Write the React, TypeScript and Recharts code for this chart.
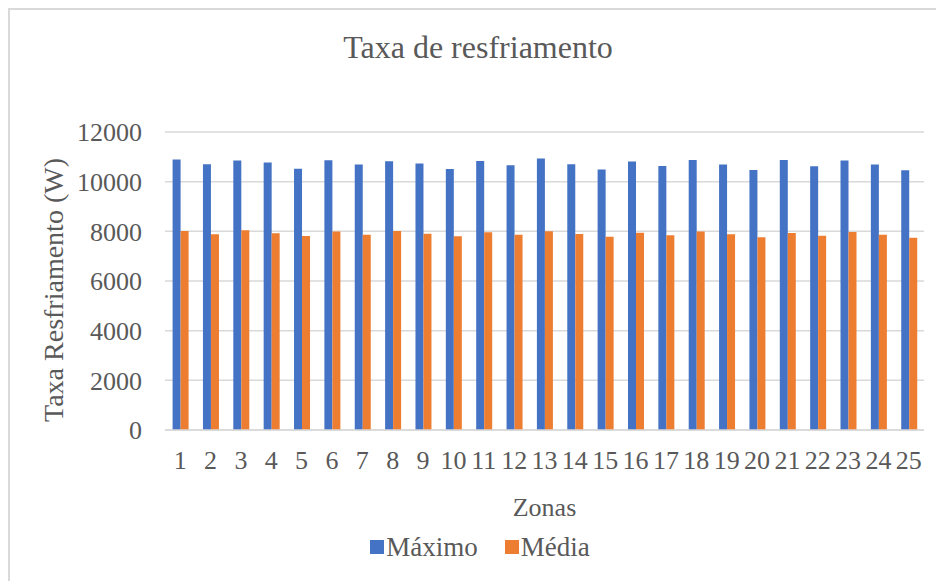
import React from 'react';
import { BarChart, Bar, XAxis, YAxis, CartesianGrid, Legend, Label } from 'recharts';

const FONT = 'Liberation Serif, serif';
const TEXT = '#595959';
const GRID = '#d9d9d9';

// valores (W)
const zonas = ['1', '2', '3', '4', '5', '6', '7', '8', '9', '10', '11', '12', '13', '14', '15', '16', '17', '18', '19', '20', '21', '22', '23', '24', '25'];
const maximo = [10890, 10700, 10850, 10770, 10525, 10860, 10690, 10820, 10730, 10510, 10835, 10660, 10930, 10700, 10485, 10810, 10630, 10875, 10690, 10470, 10875, 10620, 10850, 10690, 10455];
const media = [8010, 7880, 8040, 7920, 7810, 7990, 7865, 8015, 7905, 7800, 7960, 7865, 8000, 7890, 7785, 7945, 7840, 7990, 7880, 7760, 7935, 7825, 7975, 7865, 7745];
const yTicks = [0, 2000, 4000, 6000, 8000, 10000, 12000];

const data = zonas.map((zona, i) => ({ zona, maximo: maximo[i], media: media[i] }));

const renderLegend = (props: any) => {
  const { payload } = props;
  return (
    <div style={{ display: 'flex', justifyContent: 'center', alignItems: 'center', paddingLeft: 36, height: 36 }}>
      {(payload || []).map((item: any, i: number) => (
        <div key={i} style={{ display: 'flex', alignItems: 'center', marginRight: i === 0 ? 27 : 0 }}>
          <span style={{ display: 'inline-block', width: 14, height: 14, background: item.color, marginRight: 2 }} />
          <span style={{ color: TEXT, fontSize: 27, fontFamily: FONT }}>{item.value}</span>
        </div>
      ))}
    </div>
  );
};

const YTitle = (props: any) => {
  const { viewBox } = props;
  const x = viewBox.x + 53;
  const y = viewBox.y + viewBox.height / 2 + 9;
  return (
    <text
      x={x}
      y={y}
      transform={`rotate(-90, ${x}, ${y})`}
      textAnchor="middle"
      dominantBaseline="central"
      fill={TEXT}
      fontSize={28}
      style={{ fontFamily: FONT }}
    >
      Taxa Resfriamento (W)
    </text>
  );
};

export default function App() {
  return (
    <div style={{ position: 'absolute', left: 0, top: 0, width: 936, height: 581, background: '#fff', fontFamily: FONT }}>
      <div
        style={{
          position: 'absolute',
          left: 8,
          top: 8,
          width: 928,
          height: 573,
          borderLeft: `2px solid ${GRID}`,
          borderTop: `2px solid ${GRID}`,
          boxSizing: 'border-box',
        }}
      />
      <div
        style={{
          position: 'absolute',
          left: 178,
          top: 32,
          width: 600,
          textAlign: 'center',
          fontSize: 32,
          lineHeight: '31px',
          color: TEXT,
        }}
      >
        Taxa de resfriamento
      </div>
      <div style={{ position: 'absolute', left: 0, top: 0 }}>
        <BarChart
          width={936}
          height={581}
          data={data}
          margin={{ top: 132, right: 12, left: 0, bottom: 16 }}
          barCategoryGap="25%"
          barGap={0}
          style={{ fontFamily: FONT }}
        >
          <CartesianGrid vertical={false} stroke={GRID} strokeWidth={1.5} />
          <XAxis
            dataKey="zona"
            height={99}
            interval={0}
            axisLine={{ stroke: GRID, strokeWidth: 1.5 }}
            tickLine={false}
            tickMargin={15}
            tick={{ fill: TEXT, fontSize: 26, fontFamily: FONT }}
          >
            <Label value="Zonas" position="insideBottom" offset={13} fill={TEXT} fontSize={26} style={{ fontFamily: FONT }} />
          </XAxis>
          <YAxis
            width={165}
            domain={[0, 12000]}
            ticks={yTicks}
            interval={0}
            axisLine={false}
            tickLine={false}
            tickMargin={17}
            tick={{ fill: TEXT, fontSize: 26, fontFamily: FONT }}
          >
            <Label content={YTitle} />
          </YAxis>
          <Legend verticalAlign="bottom" content={renderLegend} />
          <Bar dataKey="maximo" name="Máximo" fill="#4472C4" isAnimationActive={false} />
          <Bar dataKey="media" name="Média" fill="#ED7D31" isAnimationActive={false} />
        </BarChart>
      </div>
    </div>
  );
}
